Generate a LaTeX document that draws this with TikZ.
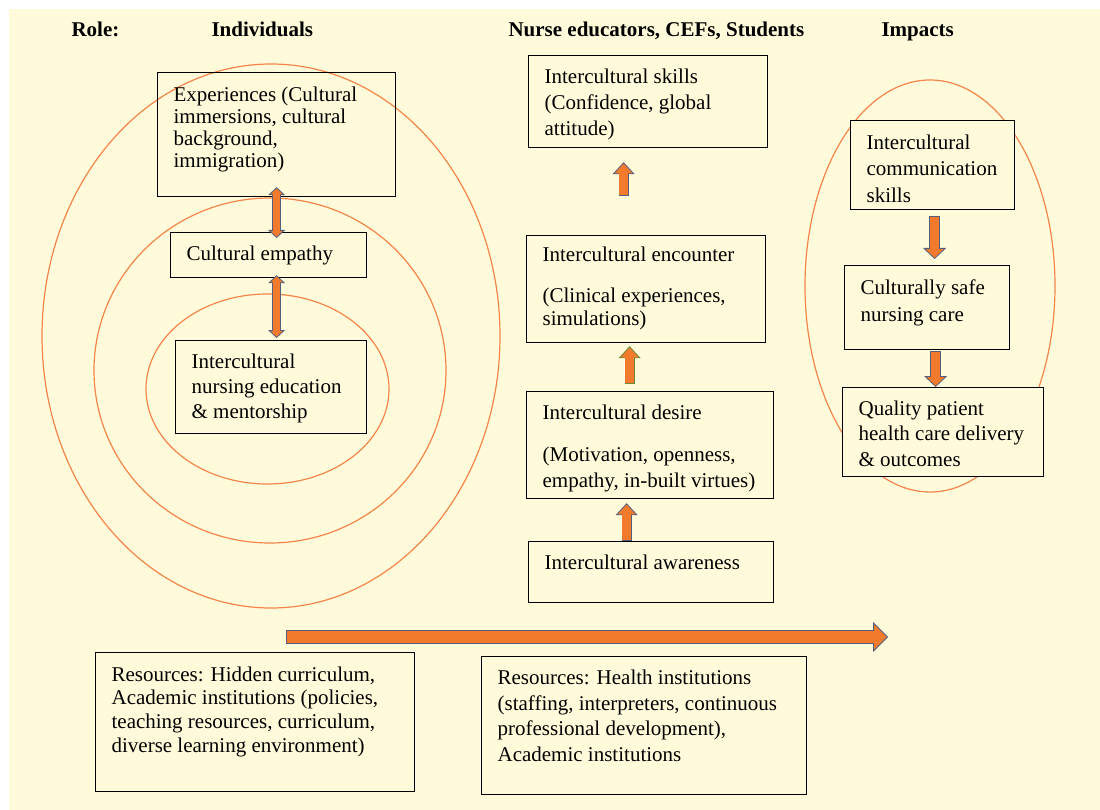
\documentclass[tikz,border=0pt]{standalone}
\usepackage{fontspec}
\setmainfont{LiberationSerif}[Extension=.ttf,UprightFont=*-Regular,BoldFont=*-Bold,ItalicFont=*-Italic,BoldItalicFont=*-BoldItalic]
\usetikzlibrary{calc,arrows.meta}
\definecolor{paper}{HTML}{FFFBDA}
\definecolor{ringline}{HTML}{F5844A}
\definecolor{arrfill}{HTML}{F27A2C}
\definecolor{arredge}{HTML}{525E7C}
\definecolor{arrolive}{HTML}{6F8A34}
%% top aligned text block: inner width, inner height, lines
\newcommand{\boxtxt}[3]{\parbox[t][#2pt][t]{#1pt}{\begin{tabular}[t]{@{}l@{}}#3\end{tabular}}}
\tikzset{
  every node/.style={font=\rmfamily\fontsize{21}{25}\selectfont},
  box/.style={draw,line width=1.2pt,fill=paper,anchor=north west,inner xsep=16pt,inner ysep=10pt},
  head/.style={anchor=base west,font=\rmfamily\fontsize{21}{25}\selectfont\bfseries},
  ring/.style={draw=ringline,line width=1.2pt},
  dblblk/.style={line width=9pt,draw=arredge,>={Triangle[width=17pt,length=8pt,fill=arrfill,line width=0.8pt]},<->,
    postaction={draw=arrfill,line width=7.4pt,shorten >=7pt,shorten <=7pt,-}},
  upblk/.style={line width=10pt,draw=arredge,>={Triangle[width=22pt,length=12pt,fill=arrfill,line width=0.8pt]},->,
    postaction={draw=arrfill,line width=8.4pt,shorten >=11pt,shorten <=0.8pt,-}},
  downblk/.style={line width=11pt,draw=arredge,>={Triangle[width=23pt,length=11pt,fill=arrfill,line width=0.8pt]},->,
    postaction={draw=arrfill,line width=9.4pt,shorten >=10pt,shorten <=0.8pt,-}},
  flowblk/.style={line width=14pt,draw=arredge,>={Triangle[width=30pt,length=15pt,fill=arrfill,line width=0.8pt]},->,
    postaction={draw=arrfill,line width=12.4pt,shorten >=14pt,shorten <=0.8pt,-}},
}
\begin{document}
\begin{tikzpicture}[x=1pt,y=-1pt]
        \useasboundingbox (0,0) rectangle (1100,810);
        \fill[paper] (9,9) rectangle (1100,810);
        %% Headings
        \node[head] (role) at (68,37) {Role:};
        \node[head] (indiv) at (208,37) {Individuals};
        \node[head] (nurse) at (505,37) {Nurse educators, CEFs, Students};
        \node[head] (impact) at (878,37) {Impacts};
        %% Rings
        \draw[ring] (271,336) ellipse [x radius=229,y radius=272];
        \draw[ring] (270,370.5) ellipse [x radius=176,y radius=172.5];
        \draw[ring] (267.5,389) ellipse [x radius=121.5,y radius=95];
        \draw[ring] (930,286) ellipse [x radius=125,y radius=206];
        %% Individuals
        \node[box,fill=none,inner ysep=14pt,font=\rmfamily\fontsize{21}{22}\selectfont] (exp) at (157,72) {\boxtxt{206}{96}{Experiences (Cultural\\ immersions, cultural\\ background,\\ immigration)}};
        \node[box] (emp) at (170,232) {\boxtxt{164}{25}{Cultural empathy}};
        \node[box] (edu) at (175,340) {\boxtxt{159}{73}{Intercultural\\ nursing education\\ \& mentorship}};
        %% Nurse educators, CEFs, Students
        \node[box,font=\rmfamily\fontsize{21}{26}\selectfont] (skills) at (528,55) {\boxtxt{207}{72}{Intercultural skills\\ (Confidence, global\\ attitude)}};
        \node[box,font=\rmfamily\fontsize{21}{23}\selectfont] (enc) at (526,235) {\boxtxt{207}{87}{Intercultural encounter\\[18pt] (Clinical experiences,\\ simulations)}};
        \node[box,font=\rmfamily\fontsize{21}{26}\selectfont] (des) at (526,391) {\boxtxt{215}{87}{Intercultural desire\\[16pt] (Motivation, openness,\\ empathy, in-built virtues)}};
        \node[box] (aw) at (528,541) {\boxtxt{213}{41}{Intercultural awareness}};
        %% Impacts
        \node[box,font=\rmfamily\fontsize{21}{26.5}\selectfont] (comm) at (850,120) {\boxtxt{132}{69}{Intercultural\\ communication\\ skills}};
        \node[box,font=\rmfamily\fontsize{21}{27}\selectfont] (safe) at (844,265) {\boxtxt{133}{64}{Culturally safe\\ nursing care}};
        \node[box,font=\rmfamily\fontsize{21}{25.5}\selectfont] (qual) at (842,387) {\boxtxt{169}{69}{Quality patient\\ health care delivery\\ \& outcomes}};
        %% Resources
        \node[box,font=\rmfamily\fontsize{21}{23.7}\selectfont,inner ysep=12pt] (resacad) at (95,652) {\boxtxt{287}{115}{Resources: Hidden curriculum,\\ Academic institutions (policies,\\ teaching resources, curriculum,\\ diverse learning environment)}};
        \node[box,font=\rmfamily\fontsize{21}{25.7}\selectfont] (reshealth) at (481,656) {\boxtxt{293}{118}{Resources: Health institutions\\ (staffing, interpreters, continuous\\ professional development),\\ Academic institutions}};
        %% Links
        \draw[dblblk] ($(exp.south)+(0,-10)$) -- ($(exp.south |- emp.north)+(0,6)$);
        \draw[dblblk] ($(exp.south |- emp.south)+(0,-3)$) -- ($(exp.south |- edu.north)+(0,-2)$);
        \draw[upblk] ($(aw.north)+(-24.5,0)$) -- ($(aw.north |- des.south)+(-24.5,4)$);
        \draw[upblk,draw=arrolive] ($(des.north)+(-20.5,-7)$) -- ($(des.north |- enc.south)+(-20.5,3)$);
        \draw[upblk] ($(enc.north)+(-22.5,-39)$) -- ($(enc.north |- skills.south)+(-22.5,14)$);
        \draw[downblk] ($(comm.south)+(2,6)$) -- ($(comm.south |- safe.north)+(2,-6)$);
        \draw[downblk] ($(safe.south)+(8.5,1)$) -- ($(safe.south |- qual.north)+(8.5,0)$);
        %% Flow
        \coordinate (flowstart) at (286,637);
        \coordinate (flowend) at (888,637);
        \draw[flowblk] (flowstart) -- (flowend);
\end{tikzpicture}
\end{document}
